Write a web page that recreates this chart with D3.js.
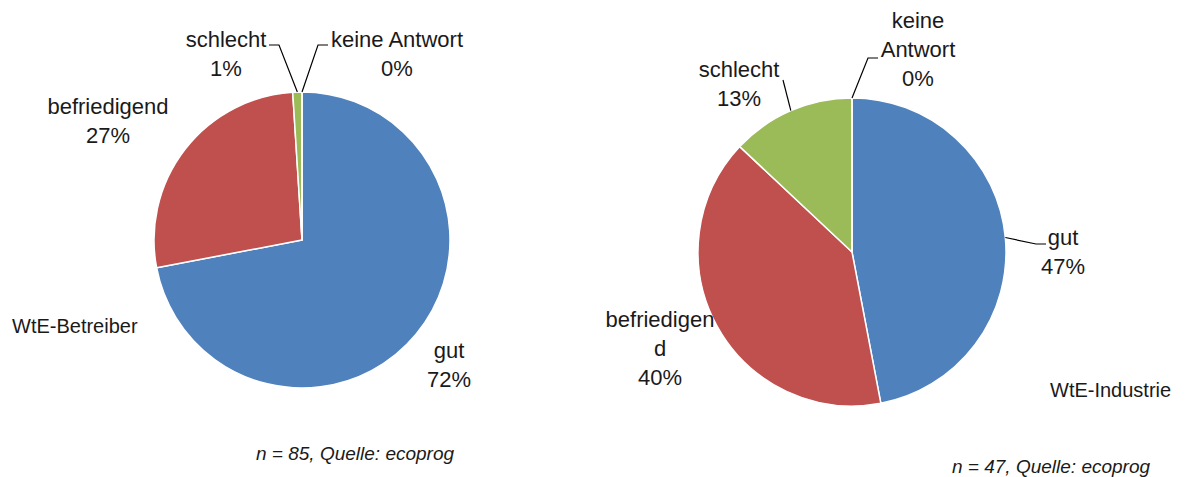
<!DOCTYPE html>
<html>
<head>
<meta charset="utf-8">
<script src="https://cdn.jsdelivr.net/npm/d3@7"></script>
<style>
  body { margin: 0; background: #fff; }
  svg text { font-family: "Liberation Sans", Arial, sans-serif; fill: #1a1a1a; }
</style>
</head>
<body>
<div id="chart"></div>
<script>
// data
var categories = ["gut", "befriedigend", "schlecht", "keine Antwort"];
var betreiberValues = [72, 27, 1, 0];
var industrieValues = [47, 40, 13, 0];
var colors = ["#4F81BD", "#C0504D", "#9BBB59", "#8064A2"];

var w = 1188, h = 477;

// layout per pie: label lines, label anchor and leader elbow points
var charts = [
  {
    values: betreiberValues, cx: 302, cy: 240, r: 148,
    title: "WtE-Betreiber", titleX: 12, titleY: 333,
    note: "n = 85, Quelle: ecoprog", noteX: 256, noteY: 460,
    labels: [
      {lines: ["gut"], x: 449, y: 358},
      {lines: ["befriedigend"], x: 108, y: 114},
      {lines: ["schlecht"], x: 226, y: 47, leader: [[279, 45], [269, 45]]},
      {lines: ["keine Antwort"], x: 397, y: 47, leader: [[318, 45], [328, 45]]}
    ]
  },
  {
    values: industrieValues, cx: 852, cy: 252, r: 154,
    title: "WtE-Industrie", titleX: 1050, titleY: 397,
    note: "n = 47, Quelle: ecoprog", noteX: 952, noteY: 473,
    labels: [
      {lines: ["gut"], x: 1063, y: 245, leader: [[1036, 244], [1046, 244]]},
      {lines: ["befriedigen", "d"], x: 660, y: 327},
      {lines: ["schlecht"], x: 739, y: 77, leader: [[783, 80]]},
      {lines: ["keine", "Antwort"], x: 918, y: 28, leader: [[868, 58], [878, 58]]}
    ]
  }
];

var lineH = 29;

var svg = d3.select("#chart")
  .append("svg")
  .attr("width", w)
  .attr("height", h)
  .attr("viewBox", "0 0 " + w + " " + h);

var pie = d3.pie().sort(null).value(function(d) { return d; });

charts.forEach(function(c) {
  var arcs = pie(c.values);
  var arc = d3.arc().innerRadius(0).outerRadius(c.r);

  var g = svg.append("g")
    .attr("transform", "translate(" + c.cx + "," + c.cy + ")");

  g.selectAll("path").data(arcs)
    .enter()
    .append("path")
    .attr("d", arc)
    .attr("fill", function(d, i) { return colors[i]; })
    .attr("stroke", "#fff")
    .attr("stroke-width", 1.5)
    .attr("stroke-linejoin", "round");

  // leader lines from slice edge to the label
  arcs.forEach(function(d, i) {
    var lab = c.labels[i];
    if (!lab.leader) return;
    var mid = (d.startAngle + d.endAngle) / 2;
    var p = d3.pointRadial(mid, c.r);
    var pts = [[c.cx + p[0], c.cy + p[1]]].concat(lab.leader);
    svg.append("path")
      .attr("d", d3.line()(pts))
      .attr("fill", "none")
      .attr("stroke", "#000")
      .attr("stroke-width", 1.2);
  });

  // labels: category name + percentage
  arcs.forEach(function(d, i) {
    var lab = c.labels[i];
    var lines = lab.lines.concat([d.data + "%"]);
    var t = svg.append("text")
      .attr("text-anchor", "middle")
      .attr("font-size", 22);
    lines.forEach(function(s, k) {
      t.append("tspan")
        .attr("x", lab.x)
        .attr("y", lab.y + k * lineH)
        .text(s);
    });
  });

  svg.append("text")
    .attr("x", c.titleX)
    .attr("y", c.titleY)
    .attr("font-size", 20)
    .text(c.title);

  svg.append("text")
    .attr("x", c.noteX)
    .attr("y", c.noteY)
    .attr("font-size", 19)
    .attr("font-style", "italic")
    .text(c.note);
});
</script>
</body>
</html>
